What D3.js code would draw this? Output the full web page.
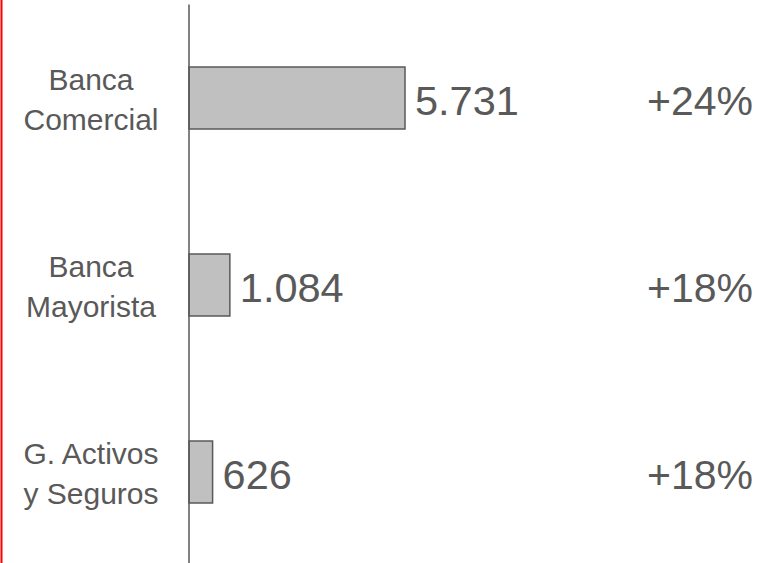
<!DOCTYPE html>
<html>
<head>
<meta charset="utf-8">
<script src="https://cdn.jsdelivr.net/npm/d3@7"></script>
<style>
  body { margin: 0; background: #fff; }
  svg { display: block; }
</style>
</head>
<body>
<svg id="vis"></svg>
<script>
// data
const categories = [["Banca", "Comercial"], ["Banca", "Mayorista"], ["G. Activos", "y Seguros"]];
const values = [5731, 1084, 626];
const valueLabels = ["5.731", "1.084", "626"];
const growthLabels = ["+24%", "+18%", "+18%"];

const width = 768;
const height = 563;
const textColor = "#595959";

function drawChart() {
  const svg = d3.select("#vis")
    .attr("width", width)
    .attr("height", height);

  const rows = values.map((v, i) => ({ id: i, cat: categories[i], value: v, label: valueLabels[i], growth: growthLabels[i] }));

  const x = d3.scaleLinear().domain([0, 5731]).range([189, 405]);
  const y = d3.scalePoint().domain(rows.map(d => d.id)).range([98, 472]);
  const barH = 62;

  // red border line on the left
  svg.append("line")
    .attr("x1", 1.5).attr("x2", 1.5)
    .attr("y1", 0).attr("y2", height)
    .style("stroke", "#ff0000")
    .style("stroke-width", 2);

  // bars
  svg.selectAll(".bar")
    .data(rows)
    .join("rect")
      .attr("class", "bar")
      .attr("x", x(0))
      .attr("y", d => y(d.id) - barH / 2)
      .attr("width", d => x(d.value) - x(0))
      .attr("height", barH)
      .style("fill", "#c0c0c0")
      .style("stroke", "#595959")
      .style("stroke-width", 1.5);

  // vertical axis line
  svg.append("line")
    .attr("x1", x(0)).attr("x2", x(0))
    .attr("y1", 4.5).attr("y2", height)
    .style("stroke", "#595959")
    .style("stroke-width", 1.5);

  // category labels, two lines each
  const cats = svg.selectAll(".cat")
    .data(rows)
    .join("text")
      .attr("class", "cat")
      .attr("text-anchor", "middle")
      .style("font-family", "'Liberation Sans', Arial, sans-serif")
      .style("font-size", "30px")
      .style("fill", textColor);
  cats.selectAll("tspan")
    .data(d => d.cat.map((t, k) => ({ t, k, cy: y(d.id) })))
    .join("tspan")
      .attr("x", 91)
      .attr("y", d => d.cy - 8 + d.k * 40)
      .text(d => d.t);

  // value labels
  svg.selectAll(".val")
    .data(rows)
    .join("text")
      .attr("class", "val")
      .attr("x", d => x(d.value) + 10)
      .attr("y", d => y(d.id) + 17)
      .style("font-family", "'Liberation Sans', Arial, sans-serif")
      .style("font-size", "41.5px")
      .style("fill", textColor)
      .text(d => d.label);

  // growth labels
  svg.selectAll(".growth")
    .data(rows)
    .join("text")
      .attr("class", "growth")
      .attr("x", 753)
      .attr("y", d => y(d.id) + 17)
      .attr("text-anchor", "end")
      .style("font-family", "'Liberation Sans', Arial, sans-serif")
      .style("font-size", "41px")
      .style("fill", textColor)
      .text(d => d.growth);
}
drawChart();
</script>
</body>
</html>
